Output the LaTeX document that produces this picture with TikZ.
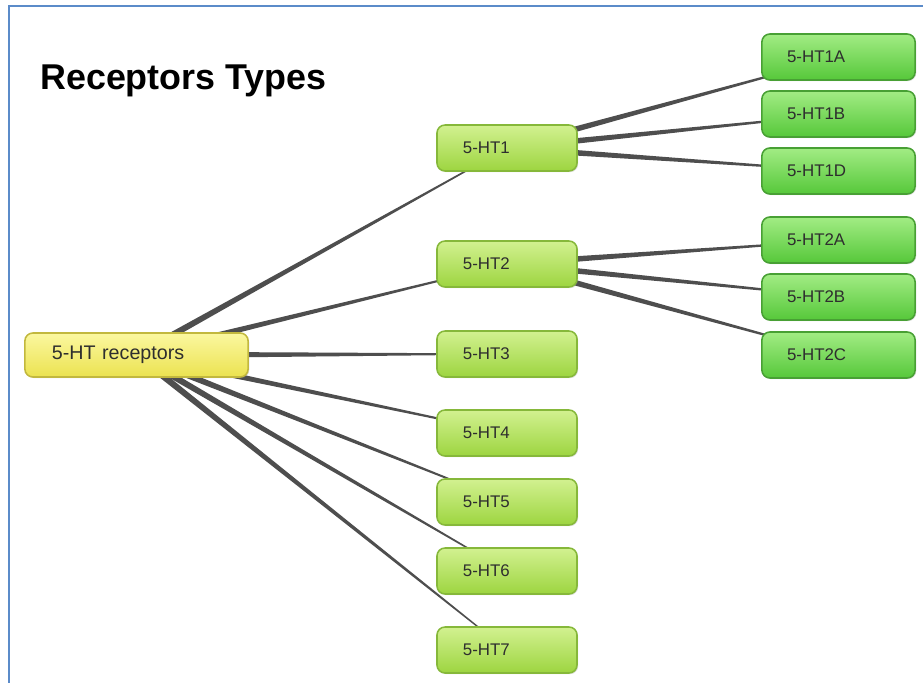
\documentclass[tikz,border=0pt]{standalone}
\usepackage{fontspec}
\setmainfont{Liberation Sans}
\usepackage{xcolor}
\definecolor{cadreBleu}{HTML}{5B8BC9}
\definecolor{lienGris}{HTML}{4E4E4E}
\definecolor{texteGris}{HTML}{2E2E2E}
\definecolor{jauneHaut}{HTML}{FBF8A0}
\definecolor{jauneBas}{HTML}{EBE250}
\definecolor{jauneBord}{HTML}{C2B83E}
\definecolor{limeHaut}{HTML}{D2F190}
\definecolor{limeBas}{HTML}{9DD540}
\definecolor{limeBord}{HTML}{86B83A}
\definecolor{vertHaut}{HTML}{A2EC84}
\definecolor{vertBas}{HTML}{56C83A}
\definecolor{vertBord}{HTML}{48A034}
\usepackage{tikz}
\usetikzlibrary{calc, backgrounds, shadows}
%% Un lien effile : large cote parent, fin cote enfant.
\newcommand{\lienEffile}[2]{%
  \fill[lienGris] ($(#1)!2.4pt!90:(#2)$) -- ($(#2)!0.35pt!-90:(#1)$)
       -- ($(#2)!0.35pt!90:(#1)$) -- ($(#1)!2.4pt!-90:(#2)$) -- cycle;}
\tikzset{
  %% ── Boites ──────────────────────────────────────────────────────────
  bloc/.style        = {rounded corners=0.2cm, line width=1.1pt, align=left,
                        inner xsep=0.65cm, inner ysep=0pt, text=texteGris,
                        font=\fontsize{12}{14}\selectfont,
                        drop shadow={opacity=0.25, shadow xshift=0.8pt,
                                     shadow yshift=-0.8pt}},
  blocRacine/.style  = {bloc, draw=jauneBord, top color=jauneHaut,
                        bottom color=jauneBas, text width=4.23cm,
                        inner xsep=0.675cm, minimum height=1.1cm,
                        font=\fontsize{14}{16}\selectfont},
  blocType/.style    = {bloc, draw=limeBord, top color=limeHaut,
                        bottom color=limeBas, text width=2.2cm,
                        minimum height=1.15cm},
  blocSousType/.style= {bloc, draw=vertBord, top color=vertHaut,
                        bottom color=vertBas, text width=2.57cm,
                        inner xsep=0.63cm, minimum height=1.15cm},
  %%
  %% ── Texte ───────────────────────────────────────────────────────────
  titreBande/.style  = {font=\fontsize{25.5}{28}\selectfont\bfseries,
                        anchor=west, inner sep=0pt},
  cadre/.style       = {draw=cadreBleu, line width=2pt},
}

\begin{document}
\begin{tikzpicture}[x=0.025cm, y=-0.025cm]
\useasboundingbox (0,0) rectangle (923,683);

%% Le cadre et le titre.
\draw[cadre] (923,6) -- (9,6) -- (9,683);
\node[titreBande] (titre) at (40,81) {Receptors Types};

%% La racine et les sept familles.
\node[blocRacine] (racine) at (136.5,355) {5-HT receptors};
\foreach \n/\y in {1/148, 2/264, 3/354, 4/433, 5/502, 6/571, 7/650}
  \node[blocType] (ht\n) at (507,\y) {5-HT\n};

%% Les sous-types de 5-HT1 et 5-HT2.
\foreach \n/\y in {1A/57, 1B/114, 1D/171, 2A/240, 2B/297, 2C/355}
  \node[blocSousType] (ht\n) at (838.5,\y) {5-HT\n};

\begin{scope}[on background layer]
  \foreach \n in {1,...,7}
    {\lienEffile{racine}{ht\n}}
  \foreach \a/\b in {ht1/ht1A, ht1/ht1B, ht1/ht1D, ht2/ht2A, ht2/ht2B, ht2/ht2C}
    {\lienEffile{\a}{\b}}
\end{scope}

\end{tikzpicture}
\end{document}
